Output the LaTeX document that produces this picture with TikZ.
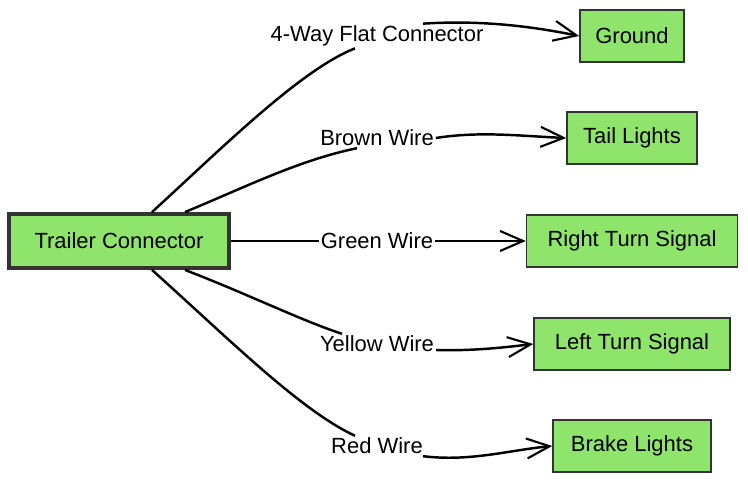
\documentclass[tikz,border=0pt]{standalone}
\usepackage{fontspec}
\setmainfont{Liberation Sans}
\usetikzlibrary{arrows.meta}
\usetikzlibrary{calc}
\definecolor{boxgreen}{RGB}{143,228,107}
\definecolor{boxline}{RGB}{51,51,51}

\begin{document}
\begin{tikzpicture}[x=0.02cm, y=-0.02cm, font=\fontsize{12.5}{15}\selectfont,
		part/.style={draw=boxline, fill=boxgreen, line width=0.9pt, minimum height=1.04cm, inner sep=0pt},
		wirename/.style={inner sep=1pt},
		wire/.style={line width=1.4pt},
		wirearrow/.style={wire, -{Straight Barb[length=0.46cm, width=0.4cm, line width=1.2pt]}}]
		\useasboundingbox (0,0) rectangle (748,483);
		% Source connector
		\node [part, line width=2.2pt, minimum width=4.4cm, minimum height=1.08cm] (tc) at (119,241) {Trailer Connector};
		% Targets
		\node [part, minimum width=2.08cm] (gnd) at (632,36) {Ground};
		\node [part, minimum width=2.6cm] (tail) at (632,138) {Tail Lights};
		\node [part, minimum width=4.22cm] (rts) at (632,241) {Right Turn Signal};
		\node [part, minimum width=3.92cm] (lts) at (632,344) {Left Turn Signal};
		\node [part, minimum width=3.16cm] (brake) at (632,446) {Brake Lights};
		% Wire labels
		\node [wirename] (w4way) at (377,36) {4-Way Flat Connector};
		\node [wirename] (wbrown) at (377,138) {Brown Wire};
		\node [wirename] (wgreen) at (377,241) {Green Wire};
		\node [wirename] (wyellow) at (377,344) {Yellow Wire};
		\node [wirename] (wred) at (377,446) {Red Wire};
		% 4-way flat
		\draw [wire] ($(tc.north)+(33,0)$) .. controls (220,150) and (300,70) .. ($(w4way.south)+(-22,0)$);
		\draw [wirearrow] ($(w4way.north)+(46,0)$) .. controls (480,20) and (530,26) .. (gnd.west);
		% Brown
		\draw [wire] ($(tc.north)+(66,0)$) .. controls (250,185) and (300,160) .. ($(wbrown.south)+(-20,0)$);
		\draw [wirearrow] (wbrown.east) .. controls (480,131) and (520,136) .. (tail.west);
		% Green
		\draw [wire] (tc.east) -- (wgreen.west);
		\draw [wirearrow] (wgreen.east) -- (rts.west);
		% Yellow
		\draw [wire] ($(tc.south)+(66,0)$) .. controls (250,295) and (300,320) .. ($(wyellow.north)+(-35,0)$);
		\draw [wirearrow] ($(wyellow.east)+(0,6)$) .. controls (470,351) and (500,348) .. (lts.west);
		% Red
		\draw [wire] ($(tc.south)+(33,0)$) .. controls (230,340) and (300,410) .. ($(wred.north)+(-22,0)$);
		\draw [wirearrow] ($(wred.south east)+(-2,0)$) .. controls (470,462) and (510,450) .. (brake.west);
\end{tikzpicture}
\end{document}
